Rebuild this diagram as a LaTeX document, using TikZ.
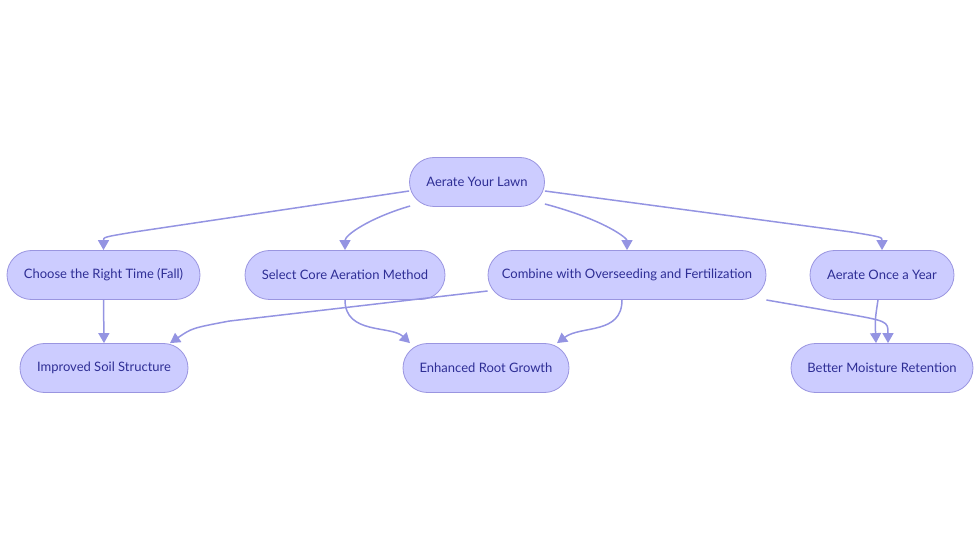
\documentclass[tikz,border=0pt]{standalone}
\usepackage{fontspec}
\setmainfont{Lato}
\usetikzlibrary{arrows.meta,calc,shapes.misc}
\definecolor{nfill}{HTML}{CCCCFF}
\definecolor{nline}{HTML}{9A95E0}
\definecolor{ntext}{HTML}{2E2E95}
\definecolor{eline}{HTML}{9494E2}
\begin{document}
\begin{tikzpicture}[x=1pt,y=-1pt,
  box/.style={rounded rectangle, draw=nline, fill=nfill, line width=0.8pt, text=ntext,
    font=\fontsize{13}{15}\selectfont, minimum height=49pt, inner sep=0pt},
  conn/.style={draw=eline, line width=1.5pt, -{Triangle[length=10pt,width=11pt]}}]
\useasboundingbox (0,0) rectangle (980,553);
\node[box, minimum width=135pt] (a) at (477,182) {Aerate Your Lawn};
\node[box, minimum width=193pt] (b1) at (103.5,275) {Choose the Right Time (Fall)};
\node[box, minimum width=200pt] (b2) at (345,275) {Select Core Aeration Method};
\node[box, minimum width=278pt] (b3) at (627,275) {Combine with Overseeding and Fertilization};
\node[box, minimum width=144pt] (b4) at (882,275) {Aerate Once a Year};
\node[box, minimum width=168pt] (c1) at (104,368) {Improved Soil Structure};
\node[box, minimum width=166pt] (c2) at (486,368) {Enhanced Root Growth};
\node[box, minimum width=182pt] (c3) at (882,368) {Better Moisture Retention};
% level 1
\draw[conn] ($(a.west)+(0,9)$) -- ($(b1.north)+(30,-18)$) .. controls ($(b1.north)+(0,-13)$) .. (b1.north);
\draw[conn] ($(a.west)+(1,24)$) .. controls ($(a.west)+(-40,36)$) and ($(b2.north)+(0,-15)$) .. (b2.north);
\draw[conn] ($(a.east)+(0,22)$) .. controls ($(a.east)+(60,38)$) and ($(b3.north)+(0,-12)$) .. (b3.north);
\draw[conn] ($(a.east)+(0,9)$) -- ($(b4.north)+(-30,-18)$) .. controls ($(b4.north)+(0,-13)$) .. (b4.north);
% level 2
\draw[conn] (b1.south) -- (c1.north);
\draw[conn] ($(b3.west)+(0,16)$) -- ($(c1.north)+(125,-22)$) .. controls ($(c1.north)+(88,-15)$) .. ($(c1.north)+(66,0)$);
\draw[conn] (b2.south) .. controls ($(b2.south)+(0,35)$) and ($(c2.north)+(-95,-18)$) .. ($(c2.north)+(-76,0)$);
\draw[conn] ($(b3.south)+(-5,0)$) .. controls ($(b3.south)+(-5,35)$) and ($(c2.north)+(95,-18)$) .. ($(c2.north)+(71,0)$);
\draw[conn] ($(b3.east)+(0,25)$) -- ($(c3.north)+(-40,-30)$) .. controls ($(c3.north)+(6,-22)$) .. ($(c3.north)+(6,0)$);
\draw[conn] ($(b4.south)+(-4,0)$) .. controls ($(b4.south)+(-7,20)$) .. ($(c3.north)+(-6,0)$);
\end{tikzpicture}
\end{document}
